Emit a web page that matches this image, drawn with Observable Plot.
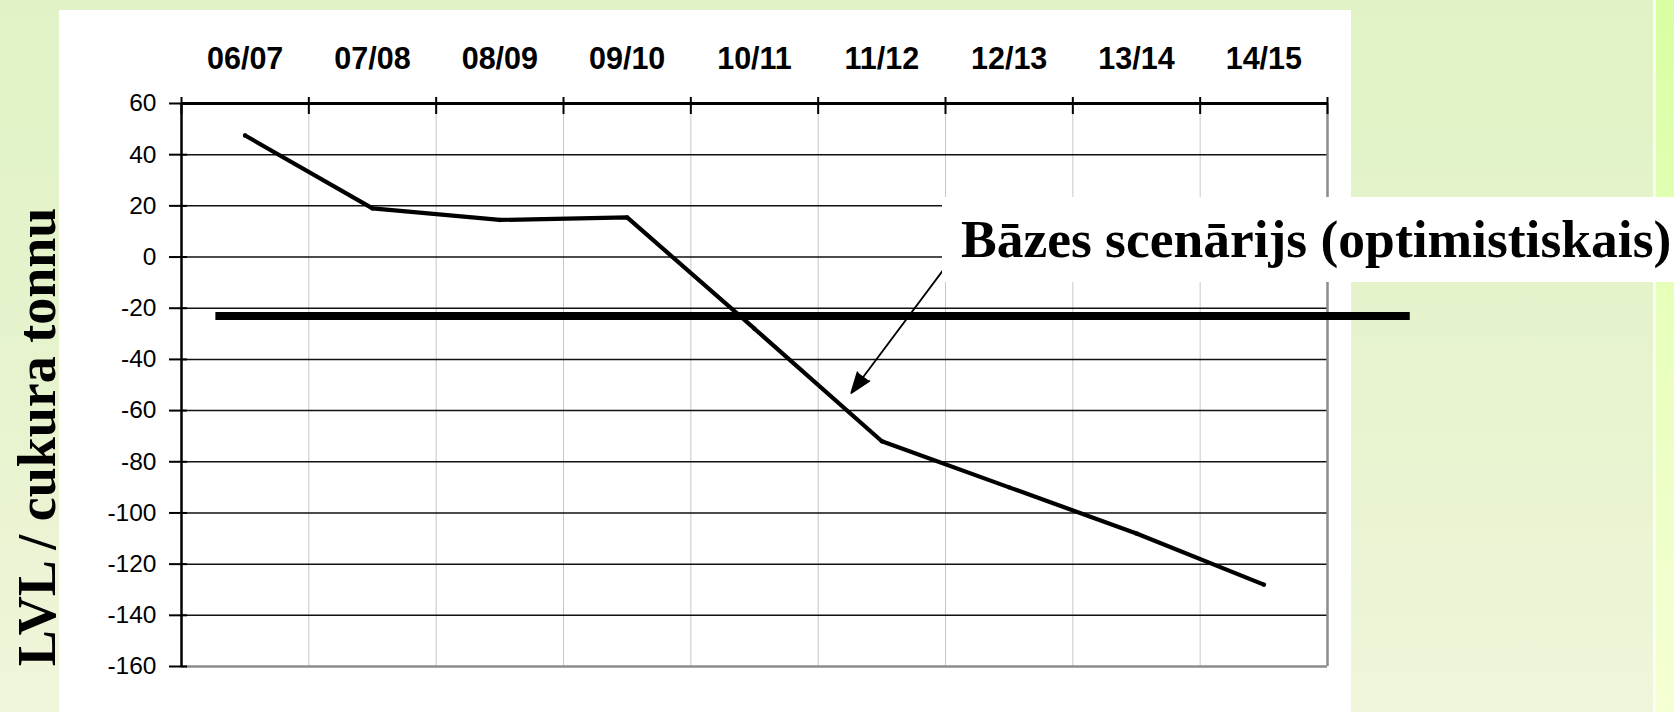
<!DOCTYPE html>
<html>
<head>
<meta charset="utf-8">
<script src="https://cdn.jsdelivr.net/npm/d3@7"></script>
<script src="https://cdn.jsdelivr.net/npm/@observablehq/plot@0.6"></script>
<style>
  html, body { margin: 0; padding: 0; }
  #stage { position: relative; width: 1674px; height: 712px; overflow: hidden;
    background: linear-gradient(180deg, #e1f3c6 0%, #e6f3cd 50%, #eff5da 100%); }
  #strip { position: absolute; left: 1653px; top: 0; width: 21px; height: 712px;
    background: linear-gradient(180deg, #d8ffa2 0%, #e9ffbe 50%, #f5ffd4 100%);
    border-left: 3px solid #f8fff0; box-sizing: border-box; }
  #panel { position: absolute; left: 59px; top: 10px; width: 1292px; height: 702px; background: #ffffff; }
  #chart { position: absolute; left: 0; top: 0; }
  #note { position: absolute; left: 942px; top: 197px; width: 732px; height: 85px; background: #ffffff;
    font-family: "Liberation Serif", "Times New Roman", serif; font-weight: bold; font-size: 53.5px;
    line-height: 85px; padding-left: 19px; box-sizing: border-box; white-space: nowrap; color: #000; }
</style>
</head>
<body>
<div id="stage">
  <div id="strip"></div>
  <div id="panel"></div>
  <div id="chart"></div>
  <div id="note"></div>
</div>
<script>
// ---- data ----
const categories = ["06/07", "07/08", "08/09", "09/10", "10/11", "11/12", "12/13", "13/14", "14/15"];
const values = [47.5, 19, 14.5, 15.5, -28, -72, -90, -108, -128];
const yTicks = [60, 40, 20, 0, -20, -40, -60, -80, -100, -120, -140, -160];
const thresholdValue = [-23];
const yTitle = "LVL / cukura tonnu";
const noteText = "Bāzes scenārijs (optimistiskais)";
const noteArrow = [{x1: 5.48, y1: -5.2, x2: 4.76, y2: -53.1}];

// ---- derived ----
const rows = categories.map((c, i) => ({i, c, v: values[i]}));
const idx = categories.map((_, i) => i);
const bounds = [-0.5, ...categories.map((_, i) => i + 0.5)];
const innerBounds = bounds.slice(1, -1);
const gridVals = yTicks.slice(1, -1);
const xMin = bounds[0], xMax = bounds[bounds.length - 1];
const yMin = yTicks[yTicks.length - 1], yMax = yTicks[0];

const chart = Plot.plot({
  width: 1674,
  height: 712,
  marginLeft: 181,
  marginRight: 347,
  marginTop: 103,
  marginBottom: 46,
  style: {background: "transparent", fontFamily: "'Liberation Sans', Arial, sans-serif", overflow: "visible", color: "#000"},
  x: {domain: [xMin, xMax]},
  y: {domain: [yMin, yMax]},
  marks: [
    Plot.ruleX(innerBounds, {stroke: "#c8c8c8", strokeWidth: 1}),
    Plot.ruleY(gridVals, {stroke: "#111", strokeWidth: 1.5}),
    Plot.ruleY([yMin], {stroke: "#8c8c8c", strokeWidth: 2.5}),
    Plot.ruleX([xMax], {stroke: "#8c8c8c", strokeWidth: 2.5}),
    Plot.ruleX([xMin], {stroke: "#000", strokeWidth: 2.5}),
    Plot.ruleY([yMax], {stroke: "#000", strokeWidth: 3.2}),
    Plot.axisX({anchor: "top", ticks: bounds, tickSize: 7, text: null, strokeWidth: 2}),
    Plot.axisX({anchor: "top", ticks: bounds, tickSize: 10, dy: 10, text: null, strokeWidth: 2}),
    Plot.axisX({anchor: "top", ticks: idx, tickSize: 0, tickPadding: 35, label: null,
      tickFormat: i => categories[i], fontSize: 30.5, fontWeight: "bold"}),
    Plot.axisY({anchor: "left", ticks: yTicks, tickSize: 12, tickPadding: 13, label: null,
      tickFormat: d => String(d), fontSize: 24.5, strokeWidth: 2}),
    Plot.axisY({anchor: "left", ticks: yTicks, tickSize: 6, dx: 6, text: null, label: null, strokeWidth: 2}),
    Plot.ruleY(thresholdValue, {x1: -0.23, x2: 9.15, stroke: "#000", strokeWidth: 8}),
    Plot.line(rows, {x: "i", y: "v", stroke: "#000", strokeWidth: 4.2, strokeLinejoin: "miter", strokeLinecap: "round"}),
    Plot.dot(rows, {x: "i", y: "v", r: 2.2, fill: "#000"}),
    Plot.arrow(noteArrow, {x1: "x1", y1: "y1", x2: "x2", y2: "y2", stroke: "#000", fill: "#000",
      strokeWidth: 1.8, headLength: 18, headAngle: 40}),
    Plot.text([yTitle], {frameAnchor: "left", text: d => d, rotate: -90, dx: -144, dy: 52,
      fontSize: 54, fontWeight: "bold", fontFamily: "'Liberation Serif', 'Times New Roman', serif",
      textAnchor: "middle", lineAnchor: "middle", fill: "#000"})
  ]
});
document.getElementById("chart").appendChild(chart);
document.getElementById("note").textContent = noteText;
</script>
</body>
</html>
